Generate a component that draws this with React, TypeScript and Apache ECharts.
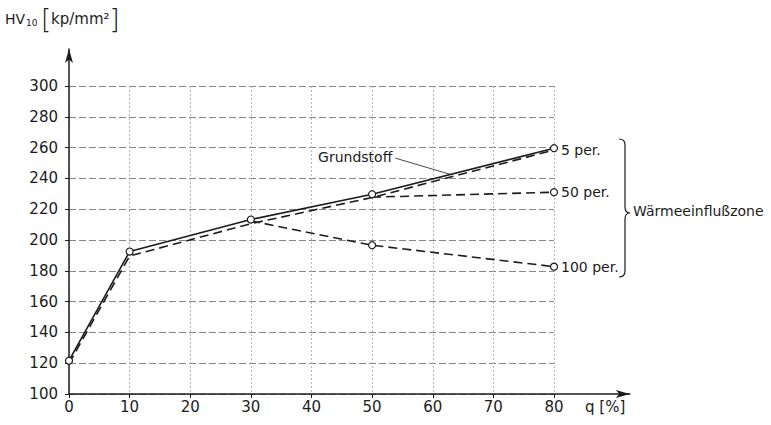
import React, { useEffect, useRef } from "react";
import * as echarts from "echarts";

// Hardness HV10 over degree of deformation q
const qGrundstoff = [0, 10, 30, 50, 80];
const hvGrundstoff = [121.6, 192.5, 213.3, 229.7, 259.6];

const q5per = [0, 10, 30, 50, 80];
const hv5per = [119.8, 189.6, 210.6, 227.6, 258.4];

const q50per = [50, 80];
const hv50per = [227.8, 231.0];

const q100per = [30, 50, 80];
const hv100per = [212.4, 196.6, 182.7];

const qTicks = [0, 10, 20, 30, 40, 50, 60, 70, 80];
const hvTicks = [100, 120, 140, 160, 180, 200, 220, 240, 260, 280, 300];

const FONT = "DejaVu Sans";
const INK = "#1c1c1c";

// curly brace for the heat-affected-zone group
echarts.graphic.registerShape(
  "brace",
  echarts.graphic.extendPath(
    "M0 0 C4 0 6 2 6 6 L6 68 C6 72 8 74 11 74 C8 74 6 76 6 80 L6 132 C6 136 4 138 0 138",
    {}
  )
);

const pairs = (xs: number[], ys: number[]) => xs.map((x, i) => [x, ys[i]]);

const circle = {
  symbol: "circle",
  symbolSize: 7,
  itemStyle: { color: "#fff", borderColor: INK, borderWidth: 1.2 },
};

const dashed = { color: INK, width: 1.6, type: [9, 5] as number[] };

export default function App() {
  const ref = useRef<HTMLDivElement>(null);

  useEffect(() => {
    if (!ref.current) return;
    const chart = echarts.init(ref.current, undefined, { renderer: "svg" });

    const xs = 485 / 80; // px per % of q
    const ys = 308 / 200; // px per HV unit
    const xAxisEnd = 92.5;
    const yAxisEnd = 324;

    const endLabel = (text: string) => ({
      show: true,
      formatter: text,
      distance: 7,
      color: INK,
      fontFamily: FONT,
      fontSize: 14,
    });

    chart.setOption({
      animation: false,
      backgroundColor: "#fff",
      grid: [
        { left: 69, top: 86, width: 485, height: 308 },
        {
          left: 69,
          top: 86 - (yAxisEnd - 300) * ys,
          width: xAxisEnd * xs,
          height: (yAxisEnd - 100) * ys,
        },
      ],
      xAxis: [
        {
          type: "value",
          gridIndex: 0,
          min: 0,
          max: 80,
          interval: 10,
          axisLine: { show: false },
          axisTick: { show: false },
          axisLabel: { show: false },
          splitLine: { show: true, lineStyle: { color: "#b0b0b0", width: 0.9, type: [2, 2] } },
        },
        {
          type: "value",
          gridIndex: 1,
          min: 0,
          max: xAxisEnd,
          axisLine: {
            show: true,
            symbol: ["none", "arrow"],
            symbolSize: [6, 14],
            lineStyle: { color: INK, width: 1.5 },
          },
          axisTick: { show: true, length: 4, customValues: qTicks, lineStyle: { color: INK, width: 1 } },
          axisLabel: {
            show: true,
            customValues: qTicks,
            margin: 5,
            color: INK,
            fontFamily: FONT,
            fontSize: 15,
          },
          splitLine: { show: false },
        },
      ],
      yAxis: [
        {
          type: "value",
          gridIndex: 0,
          min: 100,
          max: 300,
          interval: 20,
          axisLine: { show: false },
          axisTick: { show: false },
          axisLabel: { show: false },
          splitLine: { show: true, lineStyle: { color: "#7a7a7a", width: 0.9, type: [7, 3] } },
        },
        {
          type: "value",
          gridIndex: 1,
          min: 100,
          max: yAxisEnd,
          axisLine: {
            show: true,
            symbol: ["none", "arrow"],
            symbolSize: [6, 14],
            lineStyle: { color: INK, width: 1.5 },
          },
          axisTick: { show: true, length: 4, customValues: hvTicks, lineStyle: { color: INK, width: 1 } },
          axisLabel: {
            show: true,
            customValues: hvTicks,
            margin: 11,
            color: INK,
            fontFamily: FONT,
            fontSize: 15,
          },
          splitLine: { show: false },
        },
      ],
      series: [
        {
          name: "5 per.",
          type: "line",
          xAxisIndex: 0,
          yAxisIndex: 0,
          data: pairs(q5per, hv5per),
          symbol: "none",
          clip: false,
          lineStyle: dashed,
          endLabel: endLabel("5 per."),
          z: 2,
        },
        {
          name: "50 per.",
          type: "line",
          xAxisIndex: 0,
          yAxisIndex: 0,
          data: pairs(q50per, hv50per).map((p, i) =>
            i === 0 ? { value: p, symbol: "none" } : { value: p }
          ),
          ...circle,
          clip: false,
          lineStyle: dashed,
          endLabel: endLabel("50 per."),
          z: 3,
        },
        {
          name: "100 per.",
          type: "line",
          xAxisIndex: 0,
          yAxisIndex: 0,
          data: pairs(q100per, hv100per).map((p, i) =>
            i === 0 ? { value: p, symbol: "none" } : { value: p }
          ),
          ...circle,
          clip: false,
          lineStyle: dashed,
          endLabel: endLabel("100 per."),
          z: 3,
        },
        {
          name: "Grundstoff",
          type: "line",
          xAxisIndex: 0,
          yAxisIndex: 0,
          data: pairs(qGrundstoff, hvGrundstoff),
          ...circle,
          clip: false,
          lineStyle: { color: INK, width: 1.6 },
          z: 4,
          markLine: {
            silent: true,
            symbol: ["none", "none"],
            lineStyle: { color: INK, width: 0.8, type: "solid" },
            label: {
              show: true,
              position: "start",
              formatter: "Grundstoff",
              distance: 3,
              color: INK,
              fontFamily: FONT,
              fontSize: 14,
            },
            data: [[{ coord: [53.8, 253.2] }, { coord: [62.9, 242.6] }]],
          },
        },
      ],
      graphic: [
        {
          type: "text",
          left: 5,
          top: 6,
          style: {
            text: "{hv|HV}{sub|10} {br|[}{u|kp/mm²}{br|]}",
            fill: INK,
            rich: {
              hv: { fontFamily: FONT, fontSize: 14, fill: INK },
              sub: { fontFamily: FONT, fontSize: 9, fill: INK, padding: [8, 0, 0, 1] },
              br: { fontFamily: FONT, fontSize: 26, fill: INK, fontWeight: 200 },
              u: { fontFamily: FONT, fontSize: 15, fill: INK },
            },
          },
        },
        {
          type: "text",
          left: 585,
          top: 399,
          style: { text: "q [%]", fill: INK, fontFamily: FONT, fontSize: 15 },
        },
        {
          type: "brace",
          x: 619,
          y: 139,
          shape: {},
          style: { fill: "none", stroke: INK, lineWidth: 1.2 },
        },
        {
          type: "text",
          left: 633,
          top: 204,
          style: { text: "Wärmeeinflußzone", fill: INK, fontFamily: FONT, fontSize: 14 },
        },
      ],
    });

    return () => chart.dispose();
  }, []);

  return (
    <div
      ref={ref}
      style={{ position: "fixed", left: 0, top: 0, width: 771, height: 425, background: "#fff" }}
    />
  );
}
